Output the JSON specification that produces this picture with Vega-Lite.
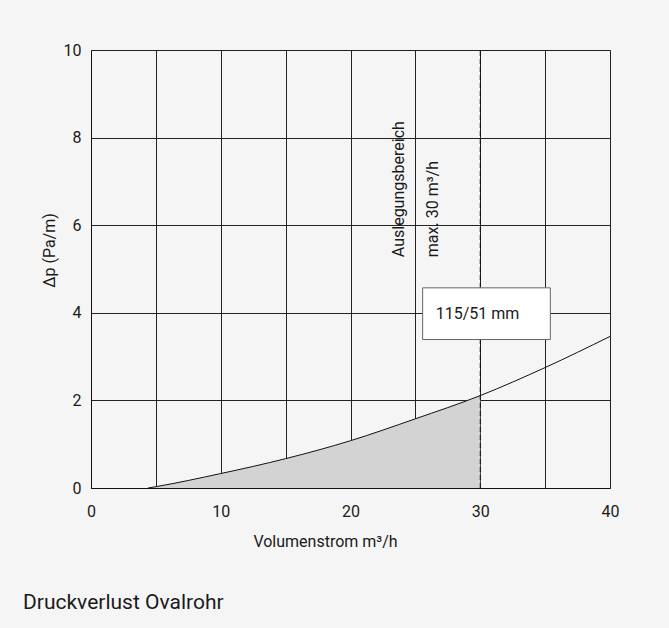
{
  "$schema": "https://vega.github.io/schema/vega-lite/v6.json",
  "width": 519,
  "height": 438,
  "autosize": {"type": "none"},
  "padding": {"left": 91, "top": 50, "right": 59, "bottom": 140},
  "background": "#f5f5f5",
  "config": {
    "font": "Roboto",
    "view": {"stroke": null, "fill": "#f5f5f5"}
  },
  "title": {
    "text": "Druckverlust Ovalrohr",
    "orient": "bottom",
    "anchor": "start",
    "frame": "group",
    "dx": -68,
    "offset": 43,
    "fontSize": 21,
    "fontWeight": "normal",
    "color": "#1a1a1a"
  },
  "datasets": {
    "curve": [
      {"x": 4.4, "y": 0},
      {"x": 5, "y": 0.03},
      {"x": 10, "y": 0.33},
      {"x": 15, "y": 0.67},
      {"x": 20, "y": 1.08},
      {"x": 25, "y": 1.58},
      {"x": 30, "y": 2.11},
      {"x": 35, "y": 2.75},
      {"x": 40, "y": 3.46}
    ],
    "marker": [{"x": 30, "y0": 0, "y1": 10}],
    "box": [{"x0": 25.56, "x1": 35.4, "y0": 3.39, "y1": 4.57, "tx": 26.57, "ty": 3.98, "label": "115/51 mm"}],
    "notes": [
      {"x": 23.76, "y": 5.27, "label": "Auslegungsbereich"},
      {"x": 26.38, "y": 5.27, "label": "max. 30 m³/h"}
    ]
  },
  "layer": [
    {
      "data": {"name": "curve"},
      "transform": [{"filter": "datum.x <= 30"}],
      "mark": {"type": "area", "interpolate": "monotone", "color": "#d3d3d3"},
      "encoding": {
        "x": {
          "field": "x", "type": "quantitative",
          "scale": {"domain": [0, 40], "nice": false},
          "axis": {
            "values": [0, 5, 10, 15, 20, 25, 30, 35, 40],
            "labelExpr": "datum.value % 10 === 0 ? datum.label : ''",
            "labelFlush": false,
            "title": "Volumenstrom m³/h",
            "titleFontSize": 16, "titleFontWeight": "normal", "titleColor": "#1a1a1a",
            "titleX": 234, "titlePadding": 14,
            "labelFontSize": 16, "labelColor": "#1a1a1a", "labelPadding": 15,
            "ticks": false, "domain": true, "domainColor": "#111", "domainWidth": 1,
            "grid": true, "gridColor": "#222", "gridOpacity": 1, "gridWidth": 1
          }
        },
        "y": {
          "field": "y", "type": "quantitative",
          "scale": {"domain": [0, 10], "nice": false},
          "axis": {
            "values": [0, 2, 4, 6, 8, 10],
            "labelFlush": false,
            "title": "Δp (Pa/m)",
            "titleFontSize": 16, "titleFontWeight": "normal", "titleColor": "#1a1a1a",
            "titleY": 200, "titlePadding": 6,
            "labelFontSize": 16, "labelColor": "#1a1a1a", "labelPadding": 10,
            "ticks": false, "domain": true, "domainColor": "#111", "domainWidth": 1,
            "grid": true, "gridColor": "#222", "gridOpacity": 1, "gridWidth": 1
          }
        }
      }
    },
    {
      "data": {"name": "curve"},
      "mark": {"type": "line", "interpolate": "monotone", "color": "#111", "strokeWidth": 1},
      "encoding": {
        "x": {"field": "x", "type": "quantitative"},
        "y": {"field": "y", "type": "quantitative"}
      }
    },
    {
      "data": {"name": "marker"},
      "mark": {"type": "rule", "color": "#111", "strokeDash": [5, 3], "strokeWidth": 1},
      "encoding": {
        "x": {"field": "x", "type": "quantitative"},
        "y": {"field": "y0", "type": "quantitative"},
        "y2": {"field": "y1"}
      }
    },
    {
      "data": {"name": "box"},
      "mark": {"type": "rect", "fill": "white", "stroke": "#666", "strokeWidth": 1},
      "encoding": {
        "x": {"field": "x0", "type": "quantitative"},
        "x2": {"field": "x1"},
        "y": {"field": "y0", "type": "quantitative"},
        "y2": {"field": "y1"}
      }
    },
    {
      "data": {"name": "box"},
      "mark": {"type": "text", "align": "left", "baseline": "middle", "fontSize": 16, "color": "#1a1a1a"},
      "encoding": {
        "x": {"field": "tx", "type": "quantitative"},
        "y": {"field": "ty", "type": "quantitative"},
        "text": {"field": "label"}
      }
    },
    {
      "data": {"name": "notes"},
      "mark": {"type": "text", "angle": 270, "align": "left", "baseline": "middle", "fontSize": 16, "color": "#1a1a1a"},
      "encoding": {
        "x": {"field": "x", "type": "quantitative"},
        "y": {"field": "y", "type": "quantitative"},
        "text": {"field": "label"}
      }
    }
  ]
}
